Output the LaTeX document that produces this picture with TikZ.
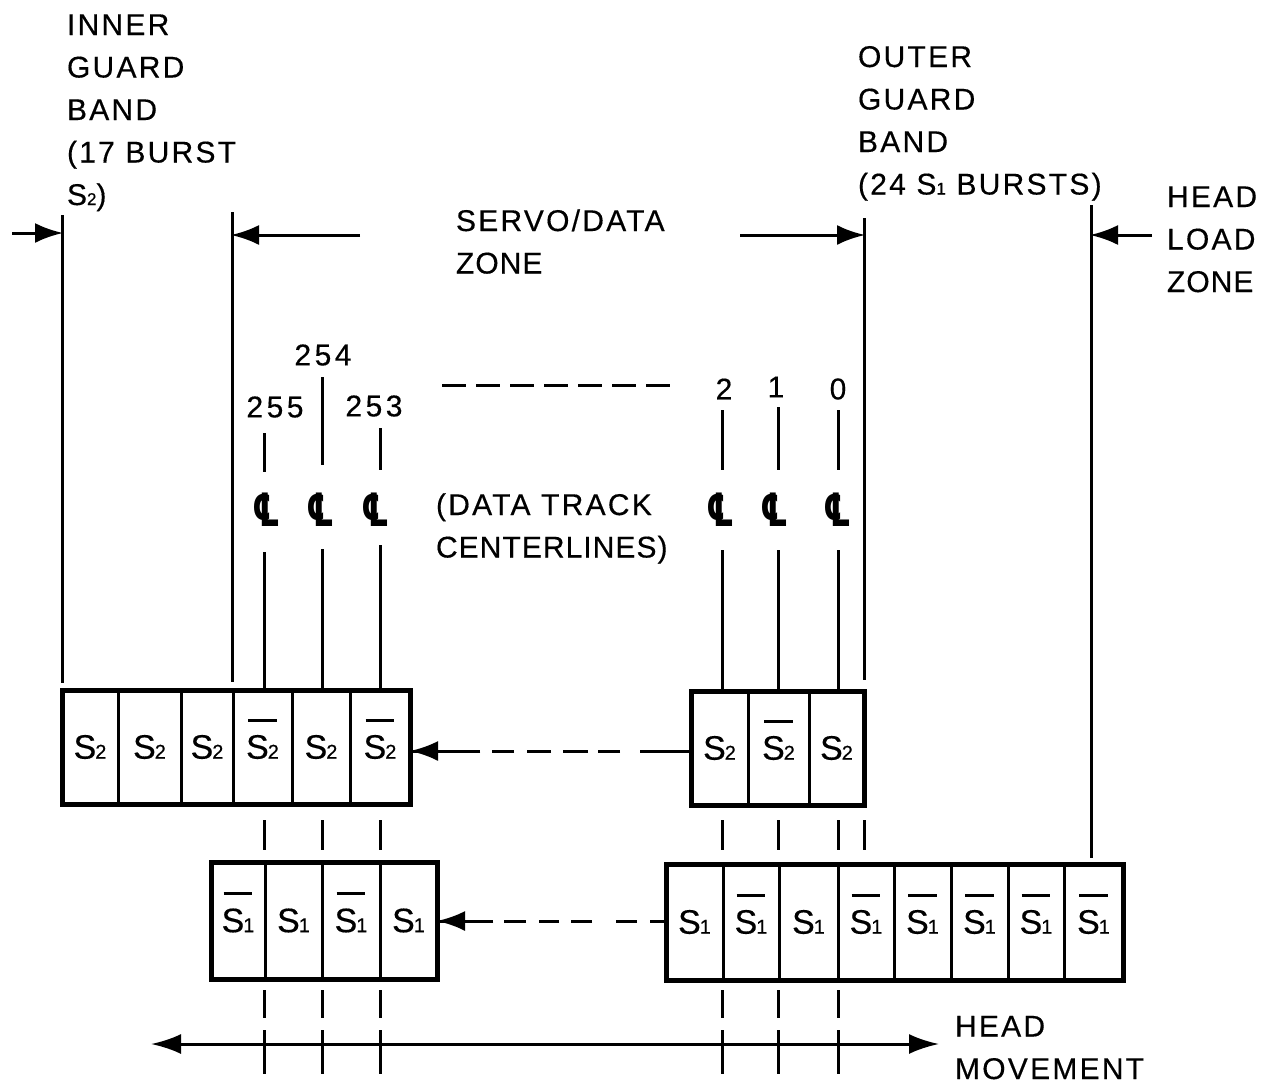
\documentclass[tikz,border=0pt]{standalone}
\usepackage{fontspec}
\setmainfont{Liberation Sans}[LetterSpace=7.5,FakeBold=0.4]
\newfontfamily\clfont{DejaVu Sans}[BoldFont={DejaVu Sans Bold}]
\usetikzlibrary{arrows.meta,fit}
\newcommand{\Ss}[1]{S{\fontsize{17}{17}\selectfont #1}}
\newcommand{\Sc}[1]{\hbox{\fontsize{34}{34}\selectfont S\kern-1pt{\fontsize{20}{20}\selectfont #1}}}
\newcommand{\Sb}[1]{\setbox0=\Sc{#1}\rlap{\kern2pt\smash{\raisebox{37pt}{\rule{\dimexpr\wd0-4pt\relax}{3pt}}}}\box0}
\newcommand{\dg}[3]{#1\kern3.5pt#2\kern3.5pt#3}
\newcommand{\tight}{\addfontfeature{LetterSpace=3.5}}
\tikzset{
  every node/.style={font=\fontsize{30}{42.5}\selectfont, inner sep=0pt, outer sep=0pt},
  lbl/.style={anchor=base west, align=left},
  num/.style={anchor=center},
  cl/.style={font=\fontsize{46}{46}\selectfont\clfont\bfseries, anchor=center},
  cellbox/.style={draw=black, line width=3pt, anchor=center},
  r1/.style={cellbox, minimum height=114pt},
  r2/.style={cellbox, minimum height=117pt},
  r3/.style={cellbox, minimum height=114pt},
  r4/.style={cellbox, minimum height=116pt},
  frame/.style={draw=black, line width=5pt, inner sep=0pt},
  ln/.style={draw=black, line width=3pt},
  tip/.style={ln, -{Latex[length=28pt,width=20pt]}, shorten >=-1pt},
}
\newcommand{\clsym}{\scalebox{0.68}[1]{℄}}
\begin{document}
\begin{tikzpicture}[x=1pt,y=-1pt]
\useasboundingbox (0,0) rectangle (1263,1087);
% S2 left
\node[r1, minimum width=56pt] (a1) at (90,747) {\Sc2};
\node[r1, minimum width=63pt] (a2) at (149.5,747) {\Sc2};
\node[r1, minimum width=52pt] (a3) at (207,747) {\Sc2};
\node[r1, minimum width=59pt] (a4) at (262.5,747) {\Sb2};
\node[r1, minimum width=58pt] (a5) at (321,747) {\Sc2};
\node[r1, minimum width=60pt] (a6) at (380,747) {\Sb2};
\node[frame, fit=(a1)(a6)] (boxa) {};
% S2 right
\node[r3, minimum width=57pt] (b1) at (719.5,748) {\Sc2};
\node[r3, minimum width=61pt] (b2) at (778.5,748) {\Sb2};
\node[r3, minimum width=55pt] (b3) at (836.5,748) {\Sc2};
\node[frame, fit=(b1)(b3)] (boxb) {};
% S1 left
\node[r2, minimum width=54pt] (c1) at (238,920.5) {\Sb1};
\node[r2, minimum width=57pt] (c2) at (293.5,920.5) {\Sc1};
\node[r2, minimum width=58pt] (c3) at (351,920.5) {\Sb1};
\node[r2, minimum width=57pt] (c4) at (408.5,920.5) {\Sc1};
\node[frame, fit=(c1)(c4)] (boxc) {};
% S1 right
\node[r4, minimum width=57pt] (d1) at (694.5,922) {\Sc1};
\node[r4, minimum width=56pt] (d2) at (751,922) {\Sb1};
\node[r4, minimum width=59pt] (d3) at (808.5,922) {\Sc1};
\node[r4, minimum width=56pt] (d4) at (866,922) {\Sb1};
\node[r4, minimum width=57pt] (d5) at (922.5,922) {\Sb1};
\node[r4, minimum width=57pt] (d6) at (979.5,922) {\Sb1};
\node[r4, minimum width=56pt] (d7) at (1036,922) {\Sb1};
\node[r4, minimum width=59pt] (d8) at (1093.5,922) {\Sb1};
\node[frame, fit=(d1)(d8)] (boxd) {};
% labels
\node[lbl] (inner) at (67,205) {INNER\\GUARD\\BAND\\(17 BURST\\\Ss2)};
\node[lbl] (outer) at (858,194.5) {OUTER\\GUARD\\BAND\\(24 \Ss1 BURSTS)};
\node[lbl] (servo) at (456,273.5) {SERVO/DATA\\{\tight ZONE}};
\node[lbl] (hlz) at (1167,292) {HEAD\\LOAD\\{\tight ZONE}};
\node[lbl] (dtc) at (436,557.5) {(DATA TRACK\\{\tight CENTERLINES)}};
\node[lbl] (hm) at (955,1079) {HEAD\\MOVEMENT};
% track numbers
\node[num] (n254) at (323,355) {\dg254};
\node[num] (n255) at (275,407) {\dg255};
\node[num] (n253) at (374,406) {\dg253};
\node[num] (n2) at (724,389) {2};
\node[num] (n1) at (776,387) {1};
\node[num] (n0) at (838,389) {0};
% centerline symbols
\node[cl] (cl255) at (267,510) {\clsym};
\node[cl] (cl254) at (321,510) {\clsym};
\node[cl] (cl253) at (376,510) {\clsym};
\node[cl] (cl2) at (721,510) {\clsym};
\node[cl] (cl1) at (775,510) {\clsym};
\node[cl] (cl0) at (838,510) {\clsym};
% free ends
\coordinate (p62) at (62,215);
\coordinate (p232) at (232,212);
\coordinate (p864) at (864,218);
\coordinate (p1091) at (1091,205);
\coordinate (q62) at (62,683);
\coordinate (q232) at (232,682);
\coordinate (q864) at (864,680);
\coordinate (q1091) at (1091,858);
\draw[ln] (p62) -- (q62);
\draw[ln] (p232) -- (q232);
\draw[ln] (p864) -- (q864);
\draw[ln] (p1091) -- (q1091);
% dimension arrows
\coordinate (e1) at (12,233);
\coordinate (e2) at (360,235);
\coordinate (e3) at (740,235);
\coordinate (e4) at (1152,235);
\draw[tip] (e1) -- (e1 -| p62);
\draw[tip] (e2) -- (e2 -| p232);
\draw[tip] (e3) -- (e3 -| p864);
\draw[tip] (e4) -- (e4 -| p1091);
% top dashed line
\coordinate (t1) at (442,385);
\coordinate (t2) at (672,385);
\draw[ln, dash pattern=on 24pt off 10pt] (t1) -- (t2);
% track lines above symbols
\foreach \x/\ya/\yb in {264/433/472, 322/377/465, 380/428/470, 722/410/470, 778/407/470, 838/410/470}
  \draw[ln] (\x,\ya) -- (\x,\yb);
% from symbols to S2 boxes
\draw[ln] (264,552) -- (264,552 |- boxa.north);
\draw[ln] (322,549) -- (322,549 |- boxa.north);
\draw[ln] (380,545) -- (380,545 |- boxa.north);
\draw[ln] (722,550) -- (722,550 |- boxb.north);
\draw[ln] (778,550) -- (778,550 |- boxb.north);
\draw[ln] (838,550) -- (838,550 |- boxb.north);
% dashes between boxes
\foreach \x in {264,322,380,722,778,838,864}
  \draw[ln] (\x,820) -- (\x,850);
\foreach \x in {264,322,380,722,778,838}
  \draw[ln] (\x,990) -- (\x,1018);
\foreach \x in {264,322,380,722,778,838}
  \draw[ln] (\x,1030) -- (\x,1074);
% dashed feeders
\coordinate (fb) at (boxb.west |- 0,751);
\coordinate (fa) at (boxa.east |- 0,751);
\draw[ln, dash pattern=on 51pt off 20pt on 22pt off 10pt on 25pt off 12pt on 24pt off 13pt on 22pt off 12pt on 70pt] (fb) -- (fa);
\draw[line width=3pt, -{Latex[length=28pt,width=20pt]}] (480,751) -- (fa);
\coordinate (fd) at (boxd.west |- 0,921);
\coordinate (fc) at (boxc.east |- 0,921);
\draw[ln, dash pattern=on 16pt off 13pt on 21pt off 24pt on 21pt off 12pt on 20pt off 13pt on 22pt off 11pt on 60pt] (fd) -- (fc);
\draw[line width=3pt, -{Latex[length=28pt,width=20pt]}] (493,921) -- (fc);
% head movement
\coordinate (h1) at (151,1044);
\coordinate (h2) at (939,1044);
\draw[line width=3pt, {Latex[length=30pt,width=20pt]}-{Latex[length=30pt,width=20pt]}] (h1) -- (h2);
\end{tikzpicture}
\end{document}
